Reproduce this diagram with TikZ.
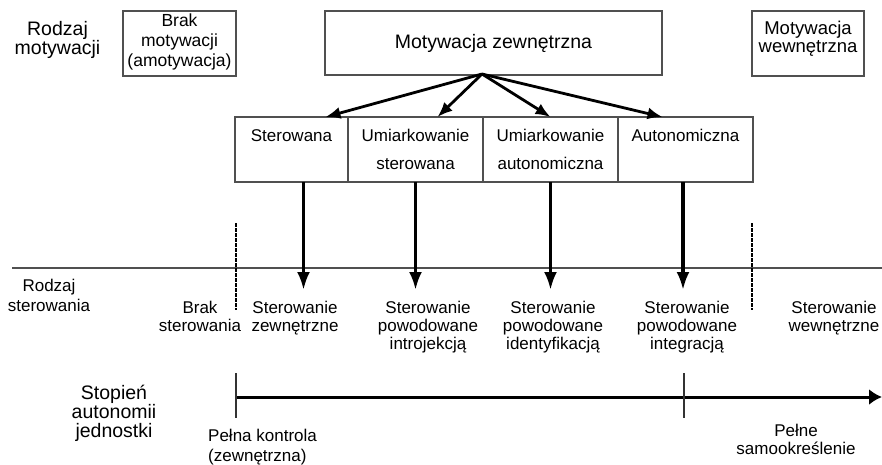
\documentclass[tikz,border=0pt]{standalone}
\usepackage{fontspec}
\setmainfont{Liberation Sans}
\usetikzlibrary{arrows.meta,positioning,calc}
\definecolor{frame}{HTML}{505050}
\newcommand{\smfont}{\fontsize{17}{18}\selectfont}
\newcommand{\bgfont}{\fontsize{19.5}{17}\selectfont}

\begin{document}
\begin{tikzpicture}
   [x=1pt,y=-1pt,
      box/.style={draw=frame,line width=1.4pt,inner sep=0pt,outer sep=0pt,
      anchor=north,align=center,font=\smfont},
row/.style={box,font={\fontsize{17}{28}\selectfont},text height=24pt,text depth=41pt},
rowtwo/.style={box,font={\fontsize{17}{28}\selectfont},text height=52pt,text depth=13pt},
lbl/.style={inner sep=0pt,anchor=north,align=center,font=\smfont},
biglbl/.style={lbl,font=\bgfont},
fan/.style={line width=2.8pt,-{Latex[length=15pt,width=12pt]}},
drop/.style={line width=3.4pt,-{Latex[length=18pt,width=13pt]}},
dashline/.style={line width=2.4pt,dash pattern=on 3.5pt off 1.5pt},
scaleline/.style={line width=3pt,-{Latex[length=13pt,width=16pt]}},
axtick/.style={line width=1.4pt,black!80}]
%%
\useasboundingbox (0,0) rectangle (882,464);
%%
\newcommand{\xyam}{(179.5,11)}
\newcommand{\xyzm}{(493.5,11)}
\newcommand{\xywm}{(808,11)}
\newcommand{\xyrow}{(291.5,117)}
%%
%% motivation row
\node (motlbl) [biglbl] at (57.5,21) {Rodzaj\\motywacji};
\node (amot) [box,font={\fontsize{17.5}{20}\selectfont},minimum width=113pt,
text height=55pt,text depth=10pt] at \xyam {Brak\\motywacji\\(amotywacja)};
\node (zew) [box,font=\bgfont,minimum width=337pt,text height=37pt,
text depth=27pt] at \xyzm {Motywacja zewnętrzna};
\node (wew) [box,font={\fontsize{18.5}{18}\selectfont},minimum width=112pt,
text height=41pt,text depth=24pt] at \xywm {Motywacja\\wewnętrzna};
%%
\node (ster) [row,minimum width=113pt] at \xyrow {Sterowana};
\node (umst) [rowtwo,minimum width=135pt,right=0pt of ster] {Umiarkowanie\\sterowana};
\node (umau) [rowtwo,minimum width=135pt,right=0pt of umst] {Umiarkowanie\\autonomiczna};
\node (auto) [row,minimum width=135pt,right=0pt of umau] {Autonomiczna};
%%
\coordinate (apex) at (482,74);
\draw[fan] (apex) -- ($(ster.north)+(34,0)$);
\draw[fan] (apex) -- ($(umst.north)+(22,0)$);
\draw[fan] (apex) -- (umau.north);
\draw[fan] (apex) -- ($(auto.north)+(-23,0)$);
%%
%% regulation row
\coordinate (hl) at (12,268);
\coordinate (hr) at (882,268);
\draw[frame,line width=1.4pt] (hl) -- (hr);
\draw[dashline] (236,223) -- (236,310);
\draw[dashline] (752,223) -- (752,310);
%%
\draw[drop] ($(ster.south)+(12,0)$) -- ++(0,108);
\draw[drop] (umst.south) -- ++(0,108);
\draw[drop] (umau.south) -- ++(0,108);
\draw[drop] ($(auto.south)+(-2.5,0)$) -- ++(0,108);
%%
\node (sterlbl) [lbl,font={\fontsize{17}{20}\selectfont}] at (49,279) {Rodzaj\\sterowania};
\node (brak) [lbl] at (200,301) {Brak\\sterowania};
\node (zewn) [lbl] at (295,301) {Sterowanie\\zewnętrzne};
\node (intro) [lbl] at (428,301) {Sterowanie\\powodowane\\introjekcją};
\node (ident) [lbl] at (553,301) {Sterowanie\\powodowane\\identyfikacją};
\node (integ) [lbl] at (687,301) {Sterowanie\\powodowane\\integracją};
\node (wewn) [lbl] at (834,301) {Sterowanie\\wewnętrzne};
%%
%% autonomy scale
\node (autlbl) [biglbl,font={\fontsize{19.5}{19}\selectfont}] at (114,385) {Stopień\\autonomii\\jednostki};
\coordinate (s0) at (236,397);
\coordinate (s1) at (882,397);
\coordinate (t0) at (684,397);
\draw[scaleline] (s0) -- (s1);
\draw[axtick] ($(s0)+(0,-24)$) -- ($(s0)+(0,21)$);
\draw[axtick] ($(t0)+(0,-24)$) -- ($(t0)+(0,21)$);
\node (pelk) [lbl,anchor=north west,align=left,font={\fontsize{17}{20}\selectfont}] at (208,429) {Pełna kontrola\\(zewnętrzna)};
\node (pels) [lbl] at (796,424) {Pełne\\samookreślenie};
\end{tikzpicture}
\end{document}
